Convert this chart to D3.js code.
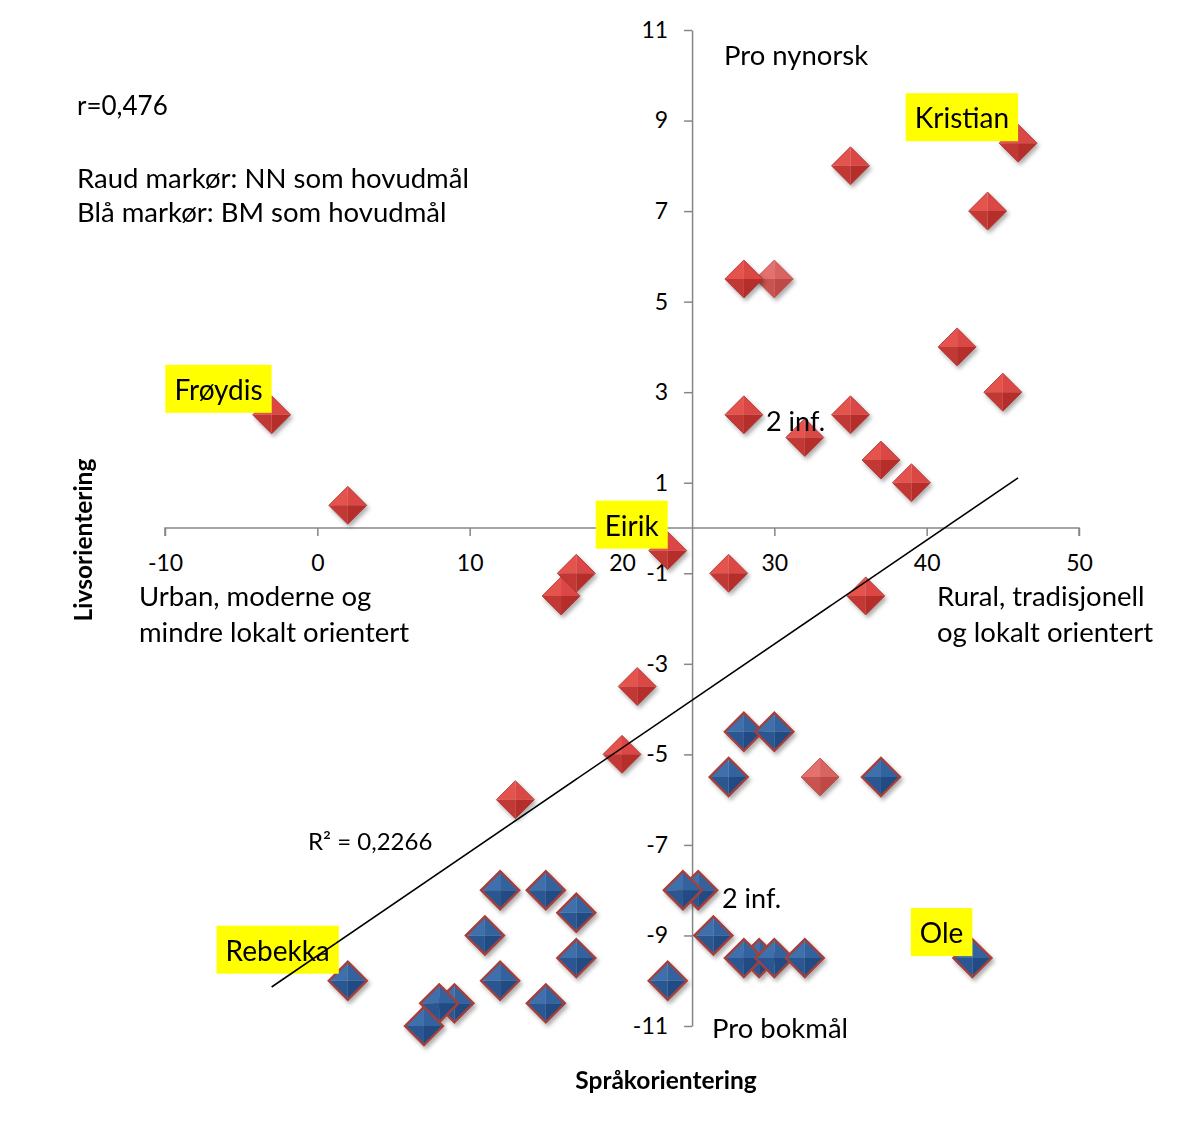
<!DOCTYPE html>
<html><head><meta charset="utf-8">
<script src="https://cdn.jsdelivr.net/npm/d3@7"></script>
<style>
body{margin:0;background:#fff}
svg{display:block}
text{font-family:Lato,"Open Sans",sans-serif;fill:#000}
</style>
</head><body><svg id="c" width="1186" height="1135"></svg>
<script>
// ---- data ----
const redX = [46,35,44,28,42,45,-3,28,32,35,37,39,2,23,17,16,27,36,21,20,13];
const redY = [8.5,8,7,5.5,4,3,2.5,2.5,2,2.5,1.5,1,0.5,-0.5,-1,-1.5,-1,-1.5,-3.5,-5,-6];
const lightRedX = [30,33];
const lightRedY = [5.5,-5.5];
const blueX = [28,30,27,37,25,24,12,15,17,11,26,17,29,28,30,32,43,2,12,23,9,8,7,15];
const blueY = [-4.5,-4.5,-5.5,-5.5,-8,-8,-8,-8,-8.5,-9,-9,-9.5,-9.5,-9.5,-9.5,-9.5,-9.5,-10,-10,-10,-10.5,-10.5,-11,-10.5];
const xTicks = [-10,0,10,20,30,40,50];
const yTicks = [-11,-9,-7,-5,-3,-1,1,3,5,7,9,11];
const nameLabels = ["Kristian","Frøydis","Eirik","Rebekka","Ole"];
const nameX = [46,-3,23,2,43];
const nameY = [8.5,2.5,-0.5,-10,-9.5];

// ---- setup ----
const svg = d3.select("#c");
const x = d3.scaleLinear().domain([-10,50]).range([165,1079]);
const y = d3.scaleLinear().domain([-11,11]).range([1026,30]);
const yAxisCross = 24.6;
const axisColor = "#868686";
const fmt = d => d < 0 ? "-" + Math.abs(d) : String(d);

const defs = svg.append("defs");
const f = defs.append("filter").attr("id","sh").attr("x","-50%").attr("y","-50%").attr("width","200%").attr("height","200%");
f.append("feDropShadow").attr("dx",2).attr("dy",3).attr("stdDeviation",2.2)
  .attr("flood-color","#000").attr("flood-opacity",0.33);

svg.append("rect").attr("width",1186).attr("height",1135).attr("fill","#fff");

// ---- axes ----
const gx = svg.append("g").attr("transform",`translate(0,${y(0)})`)
  .call(d3.axisBottom(x).tickValues(xTicks).tickSize(8).tickSizeOuter(8).tickPadding(19).tickFormat(fmt));
const gy = svg.append("g").attr("transform",`translate(${x(yAxisCross)},0)`)
  .call(d3.axisLeft(y).tickValues(yTicks).tickSize(8).tickSizeOuter(0).tickPadding(16).tickFormat(fmt));
[gx,gy].forEach(g=>{
  g.attr("font-family",null).attr("font-size",null);
  g.select(".domain").attr("stroke",axisColor).attr("stroke-width",1.5);
  g.selectAll(".tick line").attr("stroke",axisColor).attr("stroke-width",1.5);
  g.selectAll(".tick text").attr("fill","#000").style("font-size","23px");
});
gx.select(".domain").attr("d",`M${x(-10)},8V0H${x(50)}V8`);

// ---- markers ----
const r = 19;
const facets = [
  `M0,0L${-r},0L0,${-r}Z`,
  `M0,0L0,${-r}L${r},0Z`,
  `M0,0L${r},0L0,${r}Z`,
  `M0,0L0,${r}L${-r},0Z`
];
const styles = {
  light:{c:["#E2716F","#D96461","#BE4A47","#C9534F"], stroke:"#B84A47", sw:0.8},
  red:{c:["#E5524E","#DA4744","#B52E2C","#C23734"], stroke:"#A8302D", sw:0.8},
  blue:{c:["#3F6FAC","#33639F","#214C84","#2A5791"], stroke:"#A3403C", sw:2.4}
};
function drawSeries(xs, ys, st){
  const g = svg.append("g").attr("filter","url(#sh)");
  const pts = xs.map((v,i)=>({x:v,y:ys[i]}));
  const m = g.selectAll("g").data(pts).join("g")
    .attr("transform",d=>`translate(${x(d.x)},${y(d.y)})`);
  facets.forEach((p,i)=>m.append("path").attr("d",p).attr("fill",st.c[i]));
  m.append("path").attr("d",`M${-r},0L0,${-r}L${r},0L0,${r}Z`)
    .attr("fill","none").attr("stroke",st.stroke).attr("stroke-width",st.sw);
}
drawSeries(lightRedX, lightRedY, styles.light);
drawSeries(redX, redY, styles.red);
drawSeries(blueX, blueY, styles.blue);

// ---- name labels ----
nameLabels.forEach((n,i)=>{
  const px = x(nameX[i]), py = y(nameY[i]);
  const g = svg.append("g");
  const rect = g.append("rect").attr("fill","#FFFF00");
  const t = g.append("text").text(n).style("font-size","28px");
  const w = t.node().getComputedTextLength();
  const bw = w + 18, bh = 48;
  const right = n === "Rebekka" ? px - 9 : px, bottom = n === "Rebekka" ? py - 7 : py - 2;
  rect.attr("x",right-bw).attr("y",bottom-bh).attr("width",bw).attr("height",bh);
  t.attr("x",right-bw/2).attr("y",bottom-13).attr("text-anchor","middle");
});

// ---- regression trendline ----
const allX = [...redX,...lightRedX,...blueX];
const allY = [...redY,...lightRedY,...blueY];
const mx = d3.mean(allX), my = d3.mean(allY);
let sxy=0,sxx=0;
allX.forEach((v,i)=>{sxy+=(v-mx)*(allY[i]-my);sxx+=(v-mx)*(v-mx);});
const slope = sxy/sxx, icpt = my - slope*mx;
const [x0,x1] = d3.extent(allX);
svg.append("line").attr("x1",x(x0)).attr("y1",y(icpt+slope*x0))
  .attr("x2",x(x1)).attr("y2",y(icpt+slope*x1))
  .attr("stroke","#000").attr("stroke-width",1.6);

// ---- annotations ----
const notes = [
  {t:"Pro nynorsk", x:724, y:65, s:27.5},
  {t:"r=0,476", x:77, y:115, s:26},
  {t:"Raud markør: NN som hovudmål", x:77, y:188, s:27.5},
  {t:"Blå markør: BM som hovudmål", x:77, y:222, s:27.5},
  {t:"Urban, moderne og", x:139, y:606, s:27.5},
  {t:"mindre lokalt orientert", x:139, y:642, s:27.5},
  {t:"Rural, tradisjonell", x:937, y:606, s:27.5},
  {t:"og lokalt orientert", x:937, y:642, s:27.5},
  {t:"2 inf.", x:766, y:431, s:27},
  {t:"2 inf.", x:722, y:908, s:27},
  {t:"R² = 0,2266", x:308, y:850, s:24},
  {t:"Pro bokmål", x:712, y:1038, s:27.5}
];
svg.selectAll("text.note").data(notes).join("text").attr("class","note")
  .attr("x",d=>d.x).attr("y",d=>d.y).style("font-size",d=>d.s+"px").text(d=>d.t);

svg.append("text").attr("x",666).attr("y",1089).attr("text-anchor","middle")
  .style("font-size","24.5px").style("font-weight","bold").text("Språkorientering");
svg.append("text").attr("transform","translate(92,540) rotate(-90)").attr("text-anchor","middle")
  .style("font-size","24.5px").style("font-weight","bold").text("Livsorientering");
</script>
</body></html>
